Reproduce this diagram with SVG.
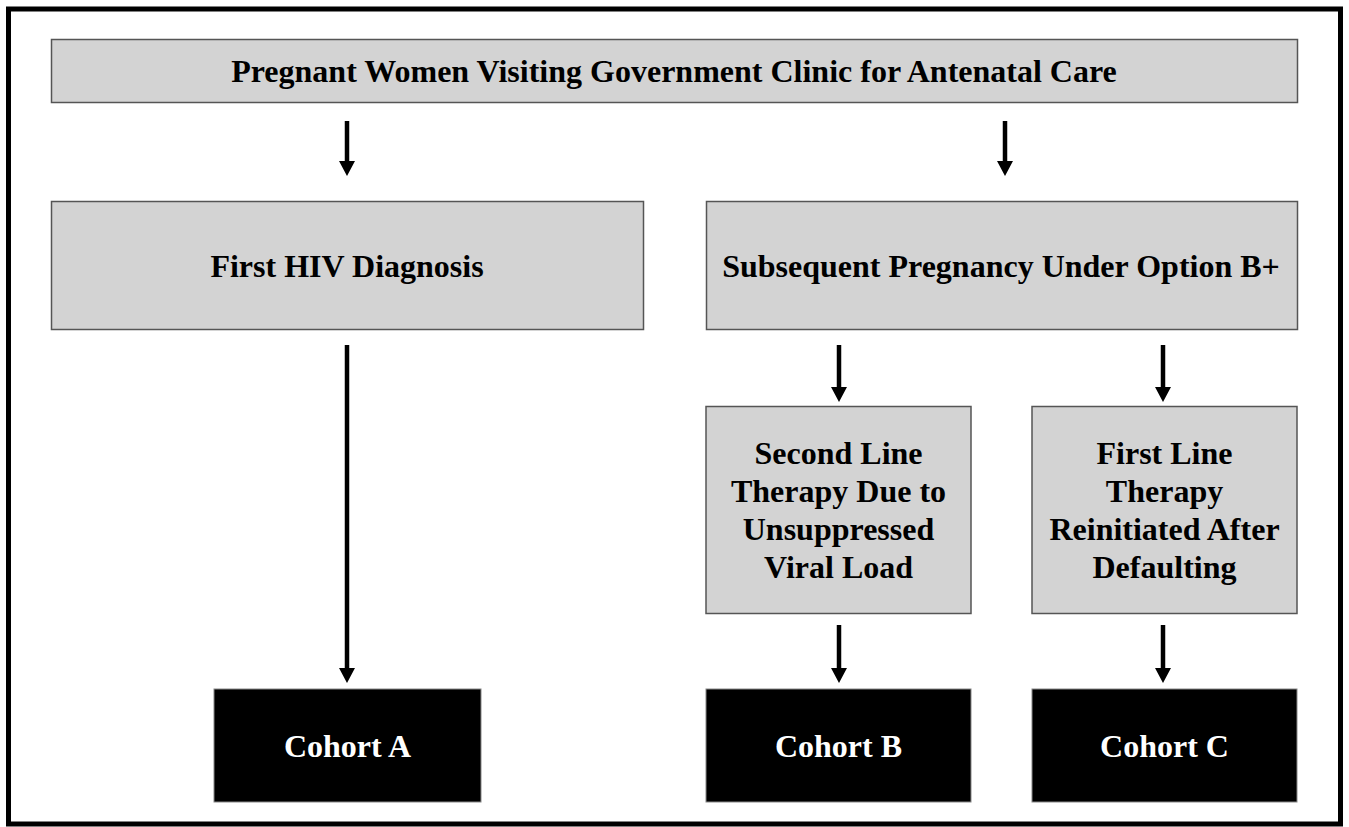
<svg xmlns="http://www.w3.org/2000/svg" width="1349" height="827" viewBox="0 0 1349 827">
<style>
.g{fill:#d3d3d3;stroke:#555;stroke-width:1.5}
.b{fill:#000;stroke:#888;stroke-width:1}
.t{font-family:"Liberation Serif","Times New Roman",serif;font-weight:bold;font-size:32px;text-anchor:middle;fill:#000}
.w{fill:#fff}
.s{stroke:#000;stroke-width:4.5;fill:none}
</style>
<rect x="0" y="0" width="1349" height="827" fill="#fff"/>
<rect x="8.5" y="9" width="1332" height="815" fill="none" stroke="#000" stroke-width="5"/>
<g id="connectors">
<path class="s" d="M347,121 V162"/>
<path d="M339,161 L355,161 L347,176 Z"/>
<path class="s" d="M1005,121 V162"/>
<path d="M997,161 L1013,161 L1005,176 Z"/>
<path class="s" d="M347,345 V669"/>
<path d="M339,668 L355,668 L347,683 Z"/>
<path class="s" d="M839,345 V388"/>
<path d="M831,387 L847,387 L839,402 Z"/>
<path class="s" d="M1163,345 V388"/>
<path d="M1155,387 L1171,387 L1163,402 Z"/>
<path class="s" d="M839,625 V669"/>
<path d="M831,668 L847,668 L839,683 Z"/>
<path class="s" d="M1163,625 V669"/>
<path d="M1155,668 L1171,668 L1163,683 Z"/>
</g>
<g id="top">
<rect class="g" x="51.5" y="39.5" width="1246" height="63"/>
<text class="t" x="674" y="82">Pregnant Women Visiting Government Clinic for Antenatal Care</text>
</g>
<g id="first">
<rect class="g" x="51.5" y="201.5" width="592" height="128"/>
<text class="t" x="347" y="277">First HIV Diagnosis</text>
</g>
<g id="subsequent">
<rect class="g" x="706.5" y="201.5" width="591" height="128"/>
<text class="t" x="1001" y="277">Subsequent Pregnancy Under Option B+</text>
</g>
<g id="second">
<rect class="g" x="706" y="406.5" width="265" height="207"/>
<text class="t" x="838.5" y="464"><tspan x="838.5">Second Line</tspan><tspan x="838.5" dy="38">Therapy Due to</tspan><tspan x="838.5" dy="38">Unsuppressed</tspan><tspan x="838.5" dy="38">Viral Load</tspan></text>
</g>
<g id="firstline">
<rect class="g" x="1032" y="406.5" width="265" height="207"/>
<text class="t" x="1164.5" y="464"><tspan x="1164.5">First Line</tspan><tspan x="1164.5" dy="38">Therapy</tspan><tspan x="1164.5" dy="38">Reinitiated After</tspan><tspan x="1164.5" dy="38">Defaulting</tspan></text>
</g>
<g id="cohortA">
<rect class="b" x="214" y="689" width="267" height="113"/>
<text class="t w" x="347.5" y="757">Cohort A</text>
</g>
<g id="cohortB">
<rect class="b" x="706" y="689" width="265" height="113"/>
<text class="t w" x="838.5" y="757">Cohort B</text>
</g>
<g id="cohortC">
<rect class="b" x="1032" y="689" width="265" height="113"/>
<text class="t w" x="1164.5" y="757">Cohort C</text>
</g>
</svg>
